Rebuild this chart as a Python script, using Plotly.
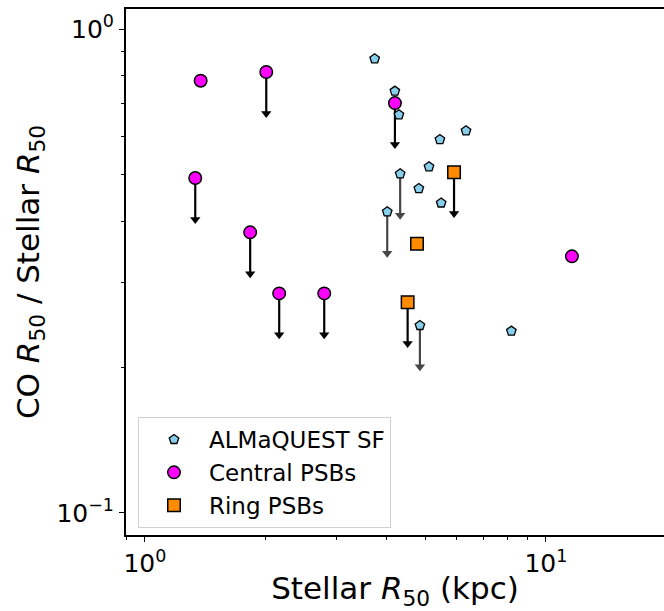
import plotly.graph_objects as go
import math

# ---------------- data ----------------
sf_x = [3.74, 4.20, 4.30, 6.32, 5.44, 5.11, 4.33, 4.82, 5.48, 4.02, 4.85, 8.20]
sf_y = [0.868, 0.744, 0.665, 0.616, 0.591, 0.519, 0.502, 0.468, 0.437, 0.419, 0.244, 0.2375]
sf_upper = [False, False, False, False, False, False, True, False, False, True, True, False]

central_x = [1.377, 2.007, 1.335, 1.830, 2.162, 2.800, 4.202, 11.61]
central_y = [0.782, 0.815, 0.492, 0.380, 0.2842, 0.2842, 0.703, 0.339]
central_upper = [False, True, True, True, True, True, True, False]

ring_x = [5.90, 4.77, 4.52]
ring_y = [0.506, 0.360, 0.2726]
ring_upper = [True, False, True]

x_ticks = [1, 10]
x_ticktext = ["10<sup>0</sup>", "10<sup>1</sup>"]
y_ticks = [0.1, 1]
y_ticktext = ["10<sup>\u22121</sup>", "10<sup>0</sup>"]
x_minor = [0.9, 2, 3, 4, 5, 6, 7, 8, 9, 20]
y_minor = [0.2, 0.3, 0.4, 0.5, 0.6, 0.7, 0.8, 0.9]

x_range = (0.897, 19.7)
y_range = (0.09, 1.1)

# ---------------- style ----------------
FONT = "DejaVu Sans"
ARROW_FACTOR = 0.821  # end of the upper-limit arrow relative to the value
SF_COLOR = "#87CEEB"
CEN_COLOR = "#FF00FF"
RING_COLOR = "#FF8C00"
GREY = "#474747"


def arrows(xs, ys, flags):
    lx, ly, hx, hy = [], [], [], []
    for x, y, f in zip(xs, ys, flags):
        if f:
            lx += [x, x, None]
            ly += [y, y * ARROW_FACTOR, None]
            hx.append(x)
            hy.append(y * ARROW_FACTOR)
    return lx, ly, hx, hy


fig = go.Figure()


def add_arrows(xs, ys, flags, color):
    lx, ly, hx, hy = arrows(xs, ys, flags)
    fig.add_trace(go.Scatter(x=lx, y=ly, mode="lines", line=dict(color=color, width=2.2),
                             showlegend=False, hoverinfo="skip"))
    fig.add_trace(go.Scatter(x=hx, y=hy, mode="markers",
                             marker=dict(symbol="triangle-down", size=9, color=color, line=dict(width=0)),
                             showlegend=False, hoverinfo="skip"))


add_arrows(sf_x, sf_y, sf_upper, GREY)
add_arrows(central_x, central_y, central_upper, "black")
add_arrows(ring_x, ring_y, ring_upper, "black")

fig.add_trace(go.Scatter(x=central_x, y=central_y, mode="markers", name="Central PSBs", legendrank=2,
                         marker=dict(symbol="circle", size=12.5, color=CEN_COLOR,
                                     line=dict(color="black", width=1.5))))
fig.add_trace(go.Scatter(x=ring_x, y=ring_y, mode="markers", name="Ring PSBs", legendrank=3,
                         marker=dict(symbol="square", size=12.5, color=RING_COLOR,
                                     line=dict(color="black", width=1.5))))
fig.add_trace(go.Scatter(x=sf_x, y=sf_y, mode="markers", name="ALMaQUEST SF", legendrank=1,
                         marker=dict(symbol="pentagon", size=10, color=SF_COLOR,
                                     line=dict(color="black", width=1.3))))

axis_common = dict(
    type="log", showgrid=False, zeroline=False,
    showline=True, linecolor="black", linewidth=2,
    ticks="outside", ticklen=5, tickwidth=1.2, tickcolor="black",
    tickfont=dict(family=FONT, size=25, color="black"),
)

fig.update_xaxes(
    **axis_common,
    mirror=True,
    range=[math.log10(x_range[0]), math.log10(x_range[1])],
    tickmode="array", tickvals=x_ticks, ticktext=x_ticktext,
    minor=dict(tickmode="array", tickvals=x_minor, ticks="outside", ticklen=3, tickwidth=1, tickcolor="black"),
    title=dict(text="Stellar <i>R</i><sub>50</sub> (kpc)", font=dict(family=FONT, size=31, color="black"),
               standoff=6),
)
fig.update_yaxes(
    **axis_common,
    mirror=False,
    range=[math.log10(y_range[0]), math.log10(y_range[1])],
    tickmode="array", tickvals=y_ticks, ticktext=y_ticktext,
    minor=dict(tickmode="array", tickvals=y_minor, ticks="outside", ticklen=3, tickwidth=1, tickcolor="black"),
    title=dict(text="CO <i>R</i><sub>50</sub> / Stellar <i>R</i><sub>50</sub>",
               font=dict(family=FONT, size=31, color="black"), standoff=8),
)

fig.update_layout(
    width=664, height=611,
    margin=dict(l=126, r=0, t=9, b=76, pad=0),
    paper_bgcolor="white", plot_bgcolor="white",
    font=dict(family=FONT, color="black"),
    legend=dict(
        x=0.0223, y=0.2243, xanchor="left", yanchor="top",
        bgcolor="rgba(255,255,255,0.8)", bordercolor="#d0d0d0", borderwidth=1,
        font=dict(family=FONT, size=23, color="black"),
        itemwidth=60, tracegroupgap=0,
    ),
    showlegend=True,
)

fig.write_html("out.html")
